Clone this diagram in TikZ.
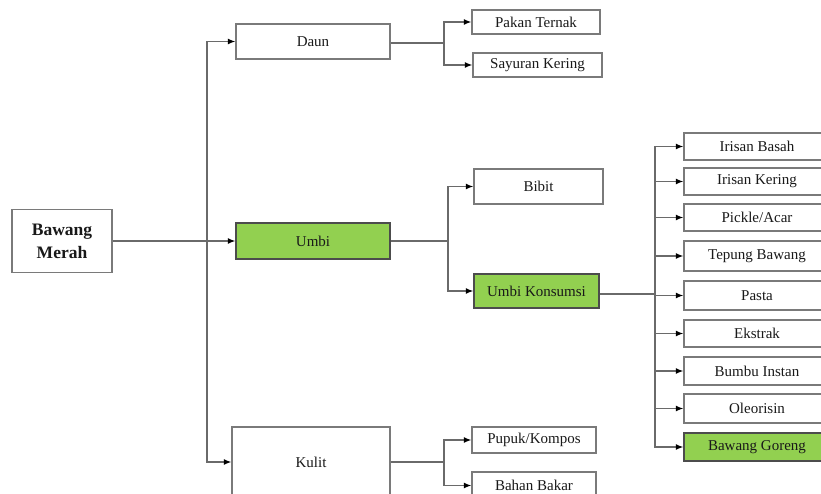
\documentclass[tikz,border=0pt]{standalone}
\usepackage{fontspec}
\setmainfont{Liberation Serif}
\usetikzlibrary{arrows.meta}
\definecolor{leafgreen}{HTML}{92D050}
\definecolor{edgegray}{HTML}{7A7A7A}
\definecolor{linegray}{HTML}{6A6A6A}
\begin{document}
\begin{tikzpicture}[x=1pt,y=-1pt,
  box/.style={draw=edgegray,line width=1.3pt,fill=white,inner sep=0pt,
    font=\fontsize{15}{17}\selectfont,text=black!90},
  hl/.style={box,fill=leafgreen,draw=black!70},
  link/.style={draw=linegray,line width=1.3pt},
  arr/.style={link,-{Latex[length=7.5pt,width=6pt,black]}}]
\useasboundingbox (0,0) rectangle (821,494);
\clip (0,0) rectangle (821,494);

% root and first level
\node[box,minimum width=100pt,minimum height=63pt,align=center,
  font=\fontsize{17.5}{23}\selectfont\bfseries] (bm) at (62,241) {Bawang\\Merah};
\node[box,minimum width=154pt,minimum height=35pt] (daun) at (313,41.5) {Daun};
\node[hl,minimum width=154pt,minimum height=36pt] (umbi) at (313,241) {Umbi};
\node[box,minimum width=158pt,minimum height=70pt] (kulit) at (311,462) {Kulit};

% second level
\node[box,minimum width=128pt,minimum height=24pt] (pakan) at (536,22) {Pakan Ternak};
\node[box,minimum width=129pt,minimum height=24pt] (sayur) at (537.5,65) {Sayuran Kering};
\node[box,minimum width=129pt,minimum height=35pt] (bibit) at (538.5,186.5) {Bibit};
\node[hl,minimum width=125pt,minimum height=34pt] (uk) at (536.5,291) {Umbi Konsumsi};
\node[box,minimum width=124pt,minimum height=26pt] (pupuk) at (534,440) {Pupuk/Kompos};
\node[box,minimum width=124pt,minimum height=27pt] (bahan) at (534,485.5) {Bahan Bakar};

% processed products
\node[box,minimum width=146pt,minimum height=27pt] (irb) at (757,146.5) {Irisan Basah};
\node[box,minimum width=146pt,minimum height=27pt] (irk) at (757,181.5) {Irisan Kering};
\node[box,minimum width=146pt,minimum height=27pt] (pick) at (757,217.5) {Pickle/Acar};
\node[box,minimum width=146pt,minimum height=30pt] (tep) at (757,256) {Tepung Bawang};
\node[box,minimum width=146pt,minimum height=29pt] (pas) at (757,295.5) {Pasta};
\node[box,minimum width=146pt,minimum height=27pt] (eks) at (757,333.5) {Ekstrak};
\node[box,minimum width=146pt,minimum height=28pt] (bum) at (757,371) {Bumbu Instan};
\node[box,minimum width=146pt,minimum height=29pt] (ole) at (757,408.5) {Oleorisin};
\node[hl,minimum width=146pt,minimum height=28pt] (bg) at (757,447) {Bawang Goreng};

% branching points
\coordinate (jA) at (207,241);
\coordinate (jB) at (444,43);
\coordinate (jC) at (448,241);
\coordinate (jD) at (655,294);
\coordinate (jE) at (444,462);

% connectors
\draw[arr] (bm.east) -- (umbi.west);
\draw[arr] (jA) |- (daun.west);
\draw[arr] (jA) |- (kulit.west);

\draw[link] (daun.east |- jB) -- (jB);
\draw[arr] (jB) |- (pakan.west);
\draw[arr] (jB) |- (sayur.west);

\draw[link] (umbi.east) -- (jC);
\draw[arr] (jC) |- (bibit.west);
\draw[arr] (jC) |- (uk.west);

\draw[link] (kulit.east |- jE) -- (jE);
\draw[arr] (jE) |- (pupuk.west);
\draw[arr] (jE) |- (bahan.west);

\draw[link] (uk.east |- jD) -- (jD);
\foreach \n in {irb,irk,pick,tep,pas,eks,bum,ole,bg}
  \draw[arr] (jD) |- (\n.west);
\end{tikzpicture}
\end{document}
